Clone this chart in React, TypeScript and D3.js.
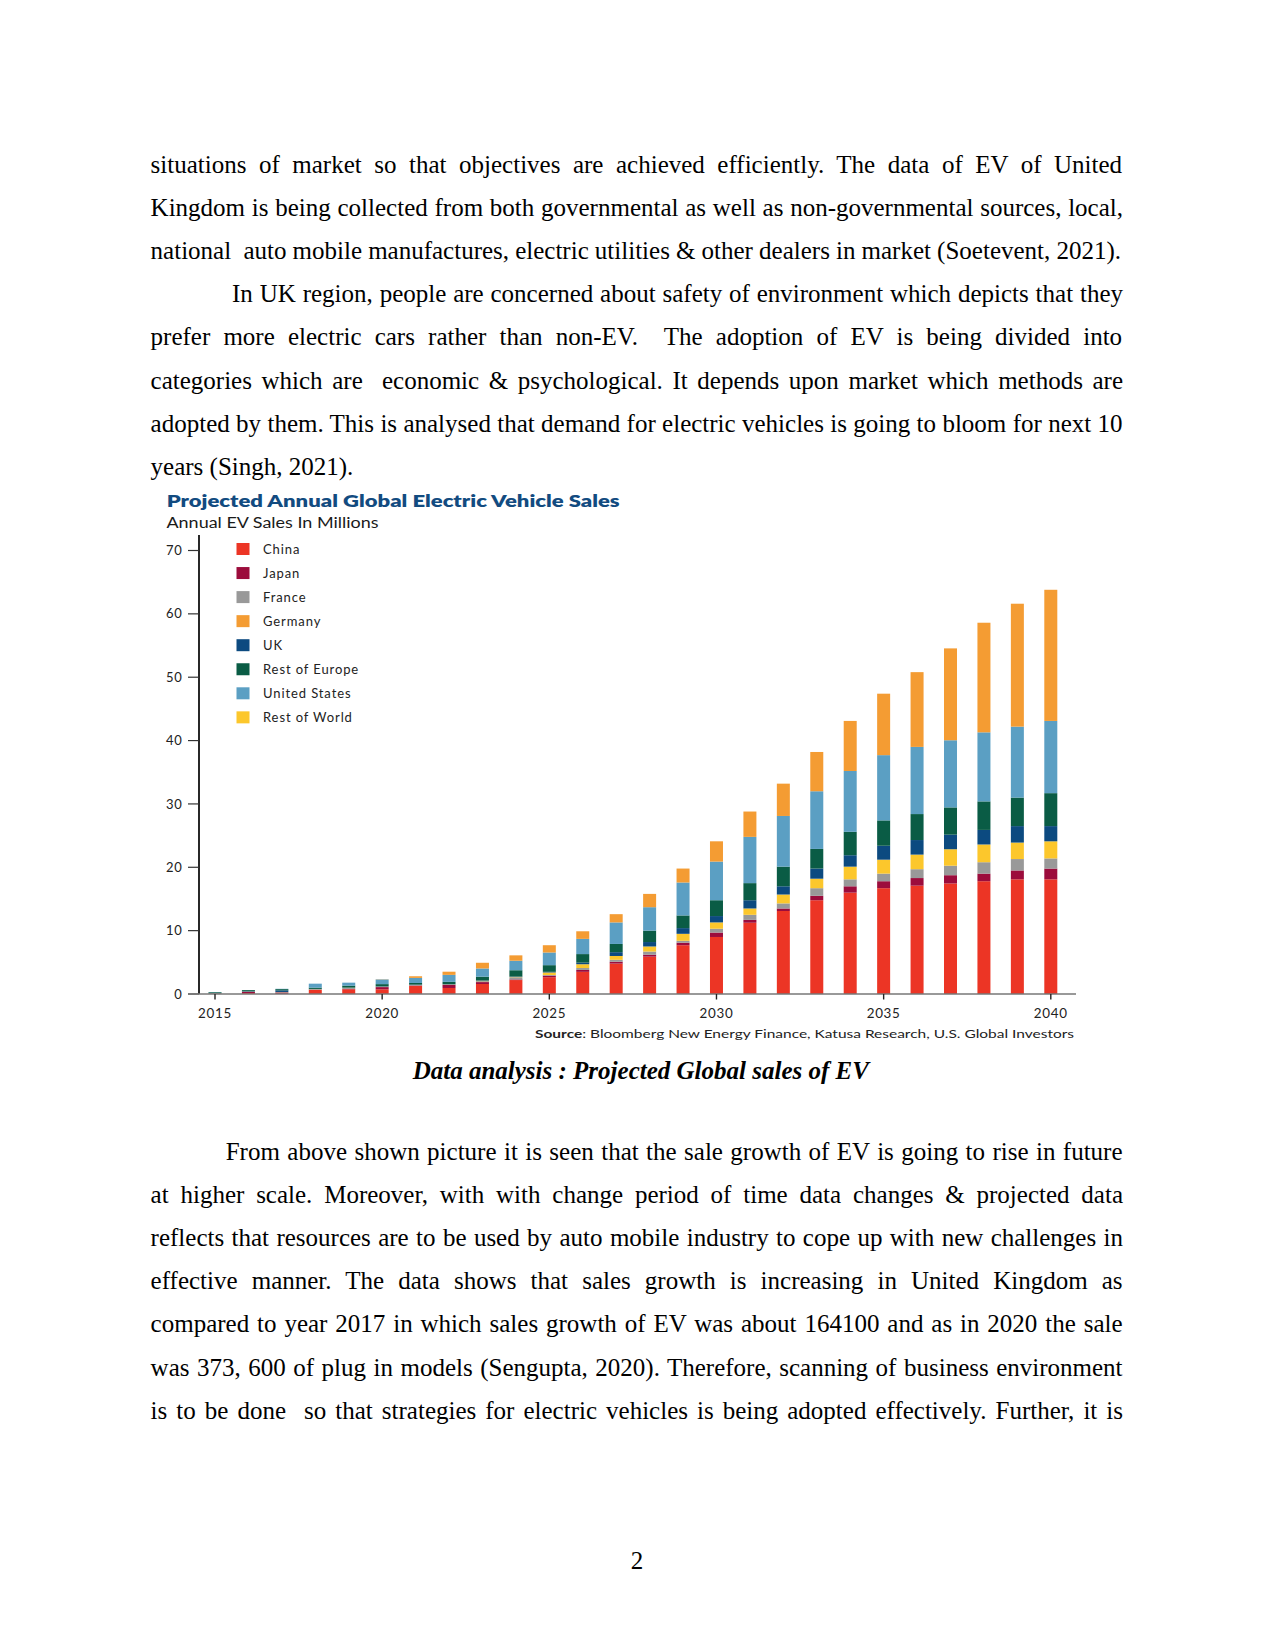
import React, { useMemo } from 'react';
import * as d3 from 'd3';

// ---------- chart data ----------
const years = [2015, 2016, 2017, 2018, 2019, 2020, 2021, 2022, 2023, 2024, 2025, 2026, 2027, 2028, 2029, 2030, 2031, 2032, 2033, 2034, 2035, 2036, 2037, 2038, 2039, 2040];
const china = [0.05, 0.15, 0.05, 0.63, 0.75, 0.74, 1.26, 0.95, 1.58, 2.2, 2.65, 3.5, 4.8, 5.9, 7.7, 9.0, 11.25, 13.1, 14.8, 16.0, 16.7, 17.1, 17.45, 17.8, 18.1, 18.1];
const japan = [0.02, 0.2, 0.2, 0.05, 0.05, 0.35, 0.08, 0.5, 0.3, 0.1, 0.25, 0.3, 0.3, 0.3, 0.4, 0.7, 0.45, 0.4, 0.7, 1.0, 1.1, 1.2, 1.3, 1.2, 1.4, 1.7];
const france = [0.01, 0.02, 0.05, 0.08, 0.15, 0.05, 0.08, 0.05, 0.15, 0.35, 0.1, 0.3, 0.3, 0.5, 0.3, 0.6, 0.8, 0.8, 1.2, 1.1, 1.2, 1.4, 1.5, 1.8, 1.8, 1.6];
const restOfWorld = [0.01, 0.01, 0.02, 0.02, 0.03, 0.02, 0.02, 0.02, 0.05, 0.05, 0.4, 0.6, 0.6, 0.8, 1.1, 1.0, 1.0, 1.4, 1.5, 2.0, 2.2, 2.3, 2.6, 2.8, 2.6, 2.7];
const uk = [0.03, 0.05, 0.25, 0.02, 0.03, 0.05, 0.04, 0.03, 0.05, 0.05, 0.1, 0.25, 0.6, 0.7, 0.9, 1.0, 1.3, 1.3, 1.6, 1.8, 2.2, 2.3, 2.3, 2.3, 2.6, 2.4];
const restOfEurope = [0.16, 0.18, 0.2, 0.2, 0.3, 0.35, 0.26, 0.37, 0.6, 1.0, 1.05, 1.35, 1.3, 1.8, 2.0, 2.5, 2.7, 3.1, 3.1, 3.7, 4.0, 4.1, 4.3, 4.5, 4.5, 5.2];
const unitedStates = [0.03, 0.0, 0.05, 0.63, 0.48, 0.74, 0.8, 1.1, 1.3, 1.5, 2.0, 2.4, 3.4, 3.7, 5.2, 6.1, 7.3, 8.0, 9.1, 9.6, 10.3, 10.6, 10.6, 10.9, 11.2, 11.4];
const germany = [0, 0, 0, 0, 0, 0.03, 0.26, 0.5, 0.9, 0.85, 1.15, 1.2, 1.3, 2.1, 2.2, 3.2, 4.0, 5.1, 6.2, 7.9, 9.7, 11.8, 14.5, 17.3, 19.4, 20.7];

const legendNames = ['China', 'Japan', 'France', 'Germany', 'UK', 'Rest of Europe', 'United States', 'Rest of World'];
const stackOrder = ['China', 'Japan', 'France', 'Rest of World', 'UK', 'Rest of Europe', 'United States', 'Germany'];
const seriesColors: Record<string, string> = {
  'China': '#ec3525',
  'Japan': '#9c0c3c',
  'France': '#999999',
  'Germany': '#f49c33',
  'UK': '#0c4a80',
  'Rest of Europe': '#0a5c45',
  'United States': '#5b9fc3',
  'Rest of World': '#fcc72c',
};
const yTicks = [0, 10, 20, 30, 40, 50, 60, 70];
const xTickYears = [2015, 2020, 2025, 2030, 2035, 2040];

const chartTitle = 'Projected Annual Global Electric Vehicle Sales';
const chartSubtitle = 'Annual EV Sales In Millions';

// ---------- document text ----------
const para1 = [
  'situations of market so that objectives are achieved efficiently. The data of EV of United',
  'Kingdom is being collected from both governmental as well as non-governmental sources, local,',
  'national  auto mobile manufactures, electric utilities & other dealers in market (Soetevent, 2021).',
  'In UK region, people are concerned about safety of environment which depicts that they',
  'prefer more electric cars rather than non-EV.  The adoption of EV is being divided into',
  'categories which are  economic & psychological. It depends upon market which methods are',
  'adopted by them. This is analysed that demand for electric vehicles is going to bloom for next 10',
  'years (Singh, 2021).',
];
const para2 = [
  'From above shown picture it is seen that the sale growth of EV is going to rise in future',
  'at higher scale. Moreover, with with change period of time data changes & projected data',
  'reflects that resources are to be used by auto mobile industry to cope up with new challenges in',
  'effective manner. The data shows that sales growth is increasing in United Kingdom as',
  'compared to year 2017 in which sales growth of EV was about 164100 and as in 2020 the sale',
  'was 373, 600 of plug in models (Sengupta, 2020). Therefore, scanning of business environment',
  'is to be done  so that strategies for electric vehicles is being adopted effectively. Further, it is',
];
const caption = 'Data analysis : Projected Global sales of EV';

const BODY_FONT = '25px "Liberation Serif", "Times New Roman", serif';
const CHART_FONT = 'Lato, "Open Sans", "DejaVu Sans", sans-serif';

let _ctx: CanvasRenderingContext2D | null = null;
function measure(text: string, font: string): number {
  if (!_ctx) {
    const c = document.createElement('canvas');
    _ctx = c.getContext('2d');
  }
  if (!_ctx) return text.length * 10;
  _ctx.font = font;
  return _ctx.measureText(text).width;
}

type Line = { text: string; x: number; y: number; right?: number };

function BodyLine({ line }: { line: Line }) {
  let ws = 0;
  if (line.right !== undefined) {
    const nat = measure(line.text, BODY_FONT);
    const spaces = (line.text.match(/ /g) || []).length;
    if (spaces > 0) ws = (line.right - line.x - nat) / spaces;
  }
  return (
    <text
      x={line.x}
      y={line.y}
      fontFamily='"Liberation Serif", "Times New Roman", serif'
      fontSize={25}
      fill="#000"
      style={{ whiteSpace: 'pre', wordSpacing: `${ws}px` }}
    >
      {line.text}
    </text>
  );
}

export default function App() {
  const W = 1275;
  const H = 1651;

  const LEFT = 150.6;
  const RIGHT = 1123;
  const LH = 43.17;

  const lines: Line[] = [];
  para1.forEach((t, i) => {
    const x = i === 3 ? 232 : LEFT;
    const right = i === 7 ? undefined : i === 2 ? 1121 : RIGHT;
    lines.push({ text: t, x, y: 172.7 + i * LH, right });
  });
  para2.forEach((t, i) => {
    const x = i === 0 ? 225.7 : LEFT;
    lines.push({ text: t, x, y: 1159.8 + i * LH, right: RIGHT });
  });

  // chart scales
  const x = d3.scaleLinear().domain([2015, 2040]).range([215, 1050.8]);
  const y = d3.scaleLinear().domain([0, 70]).range([994, 550.5]);
  const barW = 13;

  const rows = useMemo(
    () =>
      years.map((yr, i) => ({
        year: yr,
        'China': china[i],
        'Japan': japan[i],
        'France': france[i],
        'Germany': germany[i],
        'UK': uk[i],
        'Rest of Europe': restOfEurope[i],
        'United States': unitedStates[i],
        'Rest of World': restOfWorld[i],
      })),
    []
  );
  const stacked = useMemo(() => d3.stack<any>().keys(stackOrder)(rows), [rows]);

  const legendY0 = 549;
  const legendStep = 24.05;

  return (
    <svg
      width={W}
      height={H}
      viewBox={`0 0 ${W} ${H}`}
      style={{ position: 'absolute', left: 0, top: 0, background: '#fff' }}
    >
      <rect x={0} y={0} width={W} height={H} fill="#fff" />

      {lines.map((l, i) => (
        <BodyLine key={i} line={l} />
      ))}

      {/* Chart title */}
      <text x={166.7} y={506.7} fontFamily={CHART_FONT} fontWeight={800} fontSize={17} fill="#124b80" textLength={453} lengthAdjust="spacingAndGlyphs">
        {chartTitle}
      </text>
      <text x={166.5} y={528} fontFamily={CHART_FONT} fontSize={14.5} fill="#1a1a1a" textLength={212} lengthAdjust="spacingAndGlyphs">
        {chartSubtitle}
      </text>

      {/* bars */}
      {stacked.map((s) => (
        <g key={s.key} fill={seriesColors[s.key]}>
          {s.map((d: any, i: number) => {
            const h = y(d[0]) - y(d[1]);
            if (h <= 0) return null;
            return (
              <rect
                key={i}
                x={x(d.data.year) - barW / 2}
                y={y(d[1])}
                width={barW}
                height={h}
              />
            );
          })}
        </g>
      ))}

      {/* y axis */}
      <line x1={199} x2={199} y1={535} y2={994} stroke="#111" strokeWidth={1.8} />
      {yTicks.map((t) => (
        <g key={t}>
          <line x1={188} x2={199} y1={y(t)} y2={y(t)} stroke="#333" strokeWidth={1.2} />
          <text
            x={182.5}
            y={y(t) + 4.6}
            textAnchor="end"
            fontFamily={CHART_FONT}
            fontSize={13}
            fill="#222"
            letterSpacing={0.7}
          >
            {t}
          </text>
        </g>
      ))}

      {/* x axis */}
      <line x1={188} x2={1076} y1={994} y2={994} stroke="#777" strokeWidth={1.5} />
      {xTickYears.map((t) => (
        <g key={t}>
          <line x1={x(t)} x2={x(t)} y1={994} y2={999.5} stroke="#222" strokeWidth={1.4} />
          <text
            x={x(t)}
            y={1018}
            textAnchor="middle"
            fontFamily={CHART_FONT}
            fontSize={13.4}
            fill="#222"
            letterSpacing={0.7}
          >
            {t}
          </text>
        </g>
      ))}

      {/* source */}
      <text x={535} y={1037.5} fontFamily={CHART_FONT} fontSize={12} fill="#222" textLength={539} lengthAdjust="spacingAndGlyphs">
        <tspan fontWeight={700}>Source</tspan>
        <tspan>: Bloomberg New Energy Finance, Katusa Research, U.S. Global Investors</tspan>
      </text>

      {/* legend */}
      {legendNames.map((n, i) => {
        const cy = legendY0 + i * legendStep;
        return (
          <g key={n}>
            <rect x={236.5} y={cy - 6} width={13} height={12} fill={seriesColors[n]} />
            <text
              x={263}
              y={cy + 4.6}
              fontFamily={CHART_FONT}
              fontSize={13}
              fill="#222"
              letterSpacing={0.9}
            >
              {n}
            </text>
          </g>
        );
      })}

      {/* caption */}
      <text
        x={640.8}
        y={1079}
        textAnchor="middle"
        fontFamily='"Liberation Serif", "Times New Roman", serif'
        fontSize={25}
        fontWeight={700}
        fontStyle="italic"
        fill="#000"
      >
        {caption}
      </text>

      {/* page number */}
      <text
        x={637}
        y={1569}
        textAnchor="middle"
        fontFamily='"Liberation Serif", "Times New Roman", serif'
        fontSize={25}
        fill="#000"
      >
        2
      </text>
    </svg>
  );
}
